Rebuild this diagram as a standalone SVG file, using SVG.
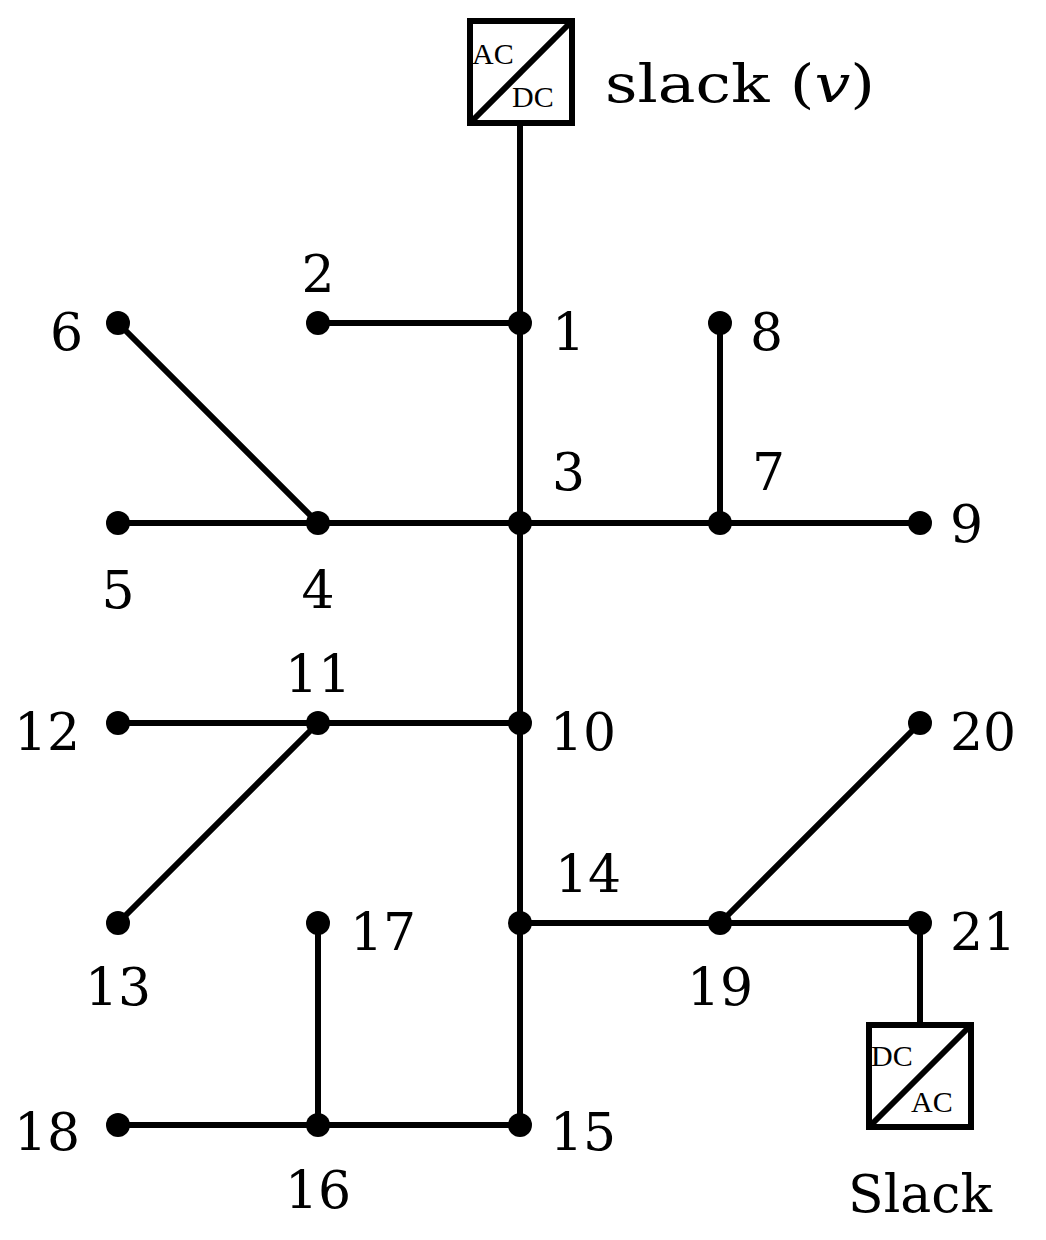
<svg xmlns="http://www.w3.org/2000/svg" width="1046" height="1240" viewBox="0 0 1046 1240">
<style>
.e{stroke:#000;stroke-width:6;fill:none}
.n{fill:#000}
text{font-family:"DejaVu Serif","Liberation Serif",serif;font-size:52px;fill:#000}
.s{font-size:30px;font-family:"Liberation Serif",serif}
.m{text-anchor:middle}
.b{fill:#fff;stroke:#000;stroke-width:6}
</style>
<rect width="1046" height="1240" fill="#fff"/>
<g id="connectors">
<path class="e" d="M520 124V1125M318 323H520M118 323L318 523M118 523H920M720 523V323M118 723H520M318 723L118 923M520 923H920L920 1025M720 923L920 723M118 1125H520M318 1125V923"/>
</g>
<g id="nodes">
<circle class="n" cx="520" cy="323" r="12"/><circle class="n" cx="318" cy="323" r="12"/>
<circle class="n" cx="520" cy="523" r="12"/><circle class="n" cx="318" cy="523" r="12"/>
<circle class="n" cx="118" cy="523" r="12"/><circle class="n" cx="118" cy="323" r="12"/>
<circle class="n" cx="720" cy="523" r="12"/><circle class="n" cx="720" cy="323" r="12"/>
<circle class="n" cx="920" cy="523" r="12"/><circle class="n" cx="520" cy="723" r="12"/>
<circle class="n" cx="318" cy="723" r="12"/><circle class="n" cx="118" cy="723" r="12"/>
<circle class="n" cx="118" cy="923" r="12"/><circle class="n" cx="520" cy="923" r="12"/>
<circle class="n" cx="520" cy="1125" r="12"/><circle class="n" cx="318" cy="1125" r="12"/>
<circle class="n" cx="318" cy="923" r="12"/><circle class="n" cx="118" cy="1125" r="12"/>
<circle class="n" cx="720" cy="923" r="12"/><circle class="n" cx="920" cy="723" r="12"/>
<circle class="n" cx="920" cy="923" r="12"/>
</g>
<g id="labels">
<text x="552" y="350">1</text><text class="m" x="318" y="292">2</text>
<text x="552" y="490">3</text><text class="m" x="318" y="608">4</text>
<text class="m" x="118" y="608">5</text><text x="50" y="350">6</text>
<text x="750" y="350">8</text><text x="752" y="490">7</text>
<text x="950" y="542">9</text><text x="550" y="750">10</text>
<text class="m" x="318" y="692">11</text><text x="14" y="750">12</text>
<text class="m" x="118" y="1005">13</text><text x="555" y="892">14</text>
<text x="550" y="1150">15</text><text class="m" x="318" y="1208">16</text>
<text x="350" y="950">17</text><text x="14" y="1150">18</text>
<text class="m" x="720" y="1005">19</text><text x="950" y="750">20</text>
<text x="950" y="950">21</text>
</g>
<g id="slack-top">
<rect class="b" x="470" y="21" width="102" height="102"/>
<path class="e" d="M470 123L572 21"/>
<text class="s" x="472" y="64">AC</text><text class="s" x="512" y="107">DC</text>
<text x="605" y="102" textLength="270" lengthAdjust="spacingAndGlyphs">slack (<tspan font-style="italic">v</tspan>)</text>
</g>
<g id="slack-bottom">
<rect class="b" x="869" y="1025" width="102" height="102"/>
<path class="e" d="M869 1127L971 1025"/>
<text class="s" x="871" y="1066">DC</text><text class="s" x="911" y="1112">AC</text>
<text class="m" x="920" y="1212">Slack</text>
</g>
</svg>
